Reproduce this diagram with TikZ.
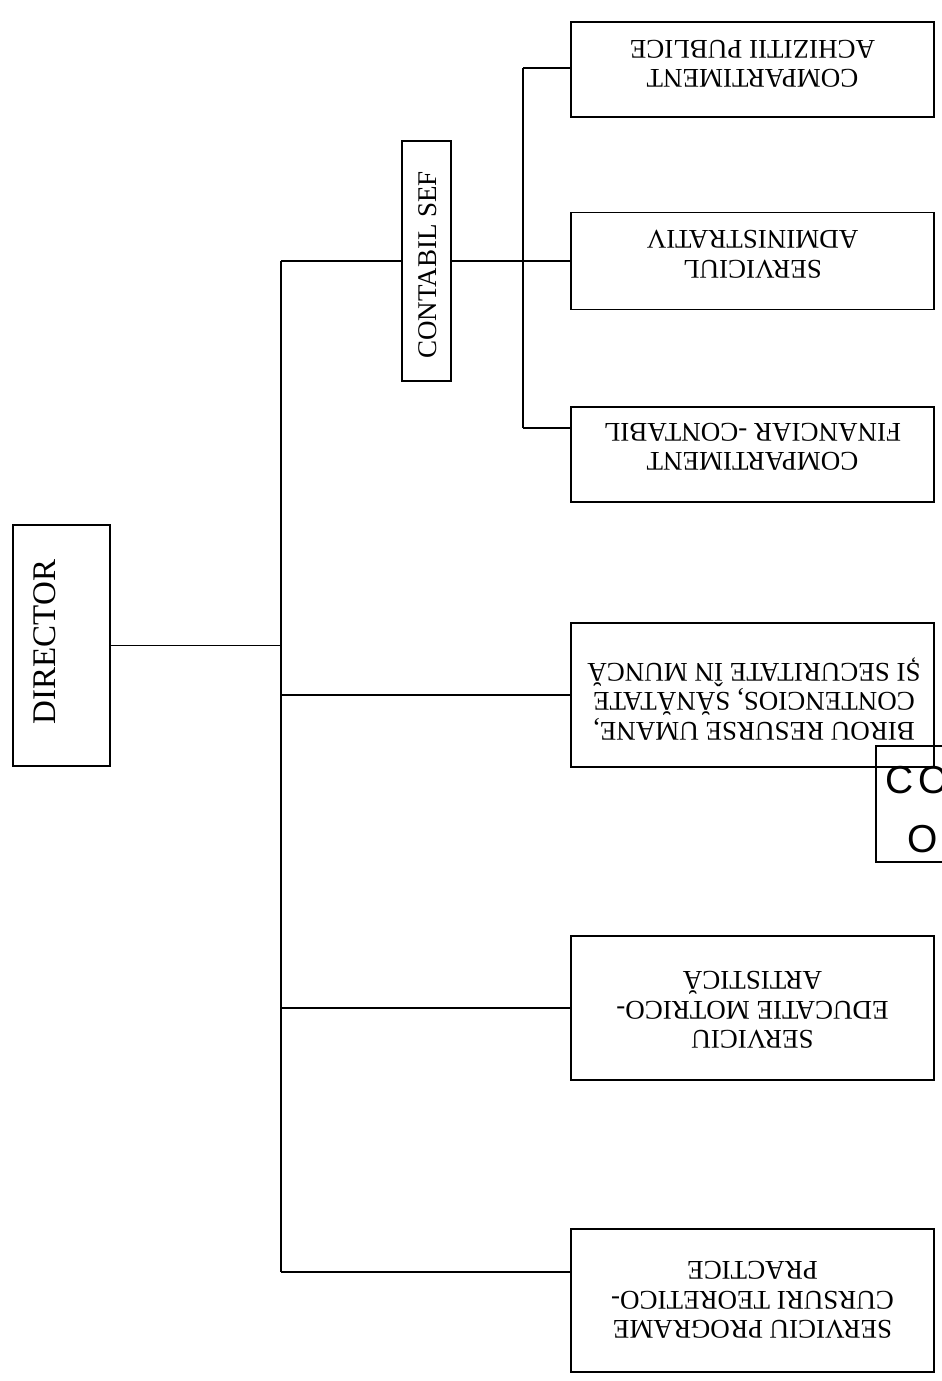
\documentclass[tikz,border=0pt]{standalone}
\usepackage{fontspec}
\setmainfont{Liberation Serif}
\newfontfamily\cosans[LetterSpace=12]{Liberation Sans}
\tikzset{
  box/.style={draw, line width=0.8pt, inner sep=0pt},
  lbl/.style={align=center, font=\fontsize{13.5}{14.8}\selectfont, inner sep=0pt},
  conn/.style={line width=0.8pt},
}
\begin{document}
\begin{tikzpicture}[x=0.5pt,y=-0.5pt]
\useasboundingbox[fill=white] (0,0) rectangle (942,1381);

% director
\node[box, minimum width=48.5pt, minimum height=120.5pt] (dir) at (61.5,645.5) {};
\node[rotate=90, inner sep=0pt, font=\fontsize{16.5}{18}\selectfont] (dirt) at (45,642) {DIRECTOR};

% contabil sef
\node[box, minimum width=24.5pt, minimum height=120pt] (cs) at (426.5,261) {};
\node[rotate=90, inner sep=0pt, font=\fontsize{13.5}{15}\selectfont] (cst) at (428,265) {CONTABIL SEF};

% right column boxes
\node[box, minimum width=181.5pt, minimum height=47.5pt] (b1) at (752.5,69.5) {};
\node[lbl, rotate=180] (t1) at (752.5,64) {COMPARTIMENT\\ACHIZITII PUBLICE};

\node[box, minimum width=181.5pt, minimum height=48.5pt] (b2) at (752.5,261) {};
\node[lbl, rotate=180] (t2) at (752.5,254) {SERVICIUL\\ADMINISTRATIV};

\node[box, minimum width=181.5pt, minimum height=47.5pt] (b3) at (752.5,454.5) {};
\node[lbl, rotate=180] (t3) at (752.5,447) {COMPARTIMENT\\FINANCIAR -CONTABIL};

\node[box, minimum width=181.5pt, minimum height=72pt] (b4) at (752.5,695) {};
\node[lbl, rotate=180] (t4) at (754,699) {BIROU RESURSE UMANE,\\CONTENCIOS, SĂNĂTATE\\ȘI SECURITATE ÎN MUNCĂ};

\node[box, minimum width=181.5pt, minimum height=72pt] (b5) at (752.5,1008) {};
\node[lbl, rotate=180] (t5) at (752.5,1010) {SERVICIU\\EDUCATIE MOTRICO-\\ARTISTICĂ};

\node[box, minimum width=181.5pt, minimum height=71.5pt] (b6) at (752.5,1300.5) {};
\node[lbl, rotate=180] (t6) at (752.5,1300) {SERVICIU PROGRAME\\CURSURI TEORETICO-\\PRACTICE};

% connectors
\coordinate (ttop) at (281,261);
\coordinate (tbot) at (281,1272);
\coordinate (stop) at (523,68);
\coordinate (sbot) at (523,428);
\draw[conn] (ttop) -- (tbot);
\draw[conn] (dir.east) -- (dir.east -| ttop);
\draw[conn] (ttop) -- (cs.west);
\draw[conn] (cs.east) -- (b2.west);
\draw[conn] (stop) -- (sbot);
\draw[conn] (stop) -- (stop -| b1.west);
\draw[conn] (sbot) -- (sbot -| b3.west);
\draw[conn] (b4.west -| ttop) -- (b4.west);
\draw[conn] (b5.west -| ttop) -- (b5.west);
\draw[conn] (tbot) -- (tbot -| b6.west);

% partial box at the right edge
\coordinate (pa) at (942,746);
\coordinate (pb) at (876,746);
\coordinate (pc) at (876,862);
\coordinate (pd) at (942,862);
\draw[conn] (pa) -- (pb) -- (pc) -- (pd);
\begin{scope}
\clip (876,746) rectangle (942,862);
\node[anchor=base west, inner sep=0pt, font=\cosans\fontsize{19.5}{22}\selectfont] (co1) at (885,793) {CO};
\node[anchor=base west, inner sep=0pt, font=\cosans\fontsize{19.5}{22}\selectfont] (co2) at (907,852) {O};
\end{scope}
\end{tikzpicture}
\end{document}
